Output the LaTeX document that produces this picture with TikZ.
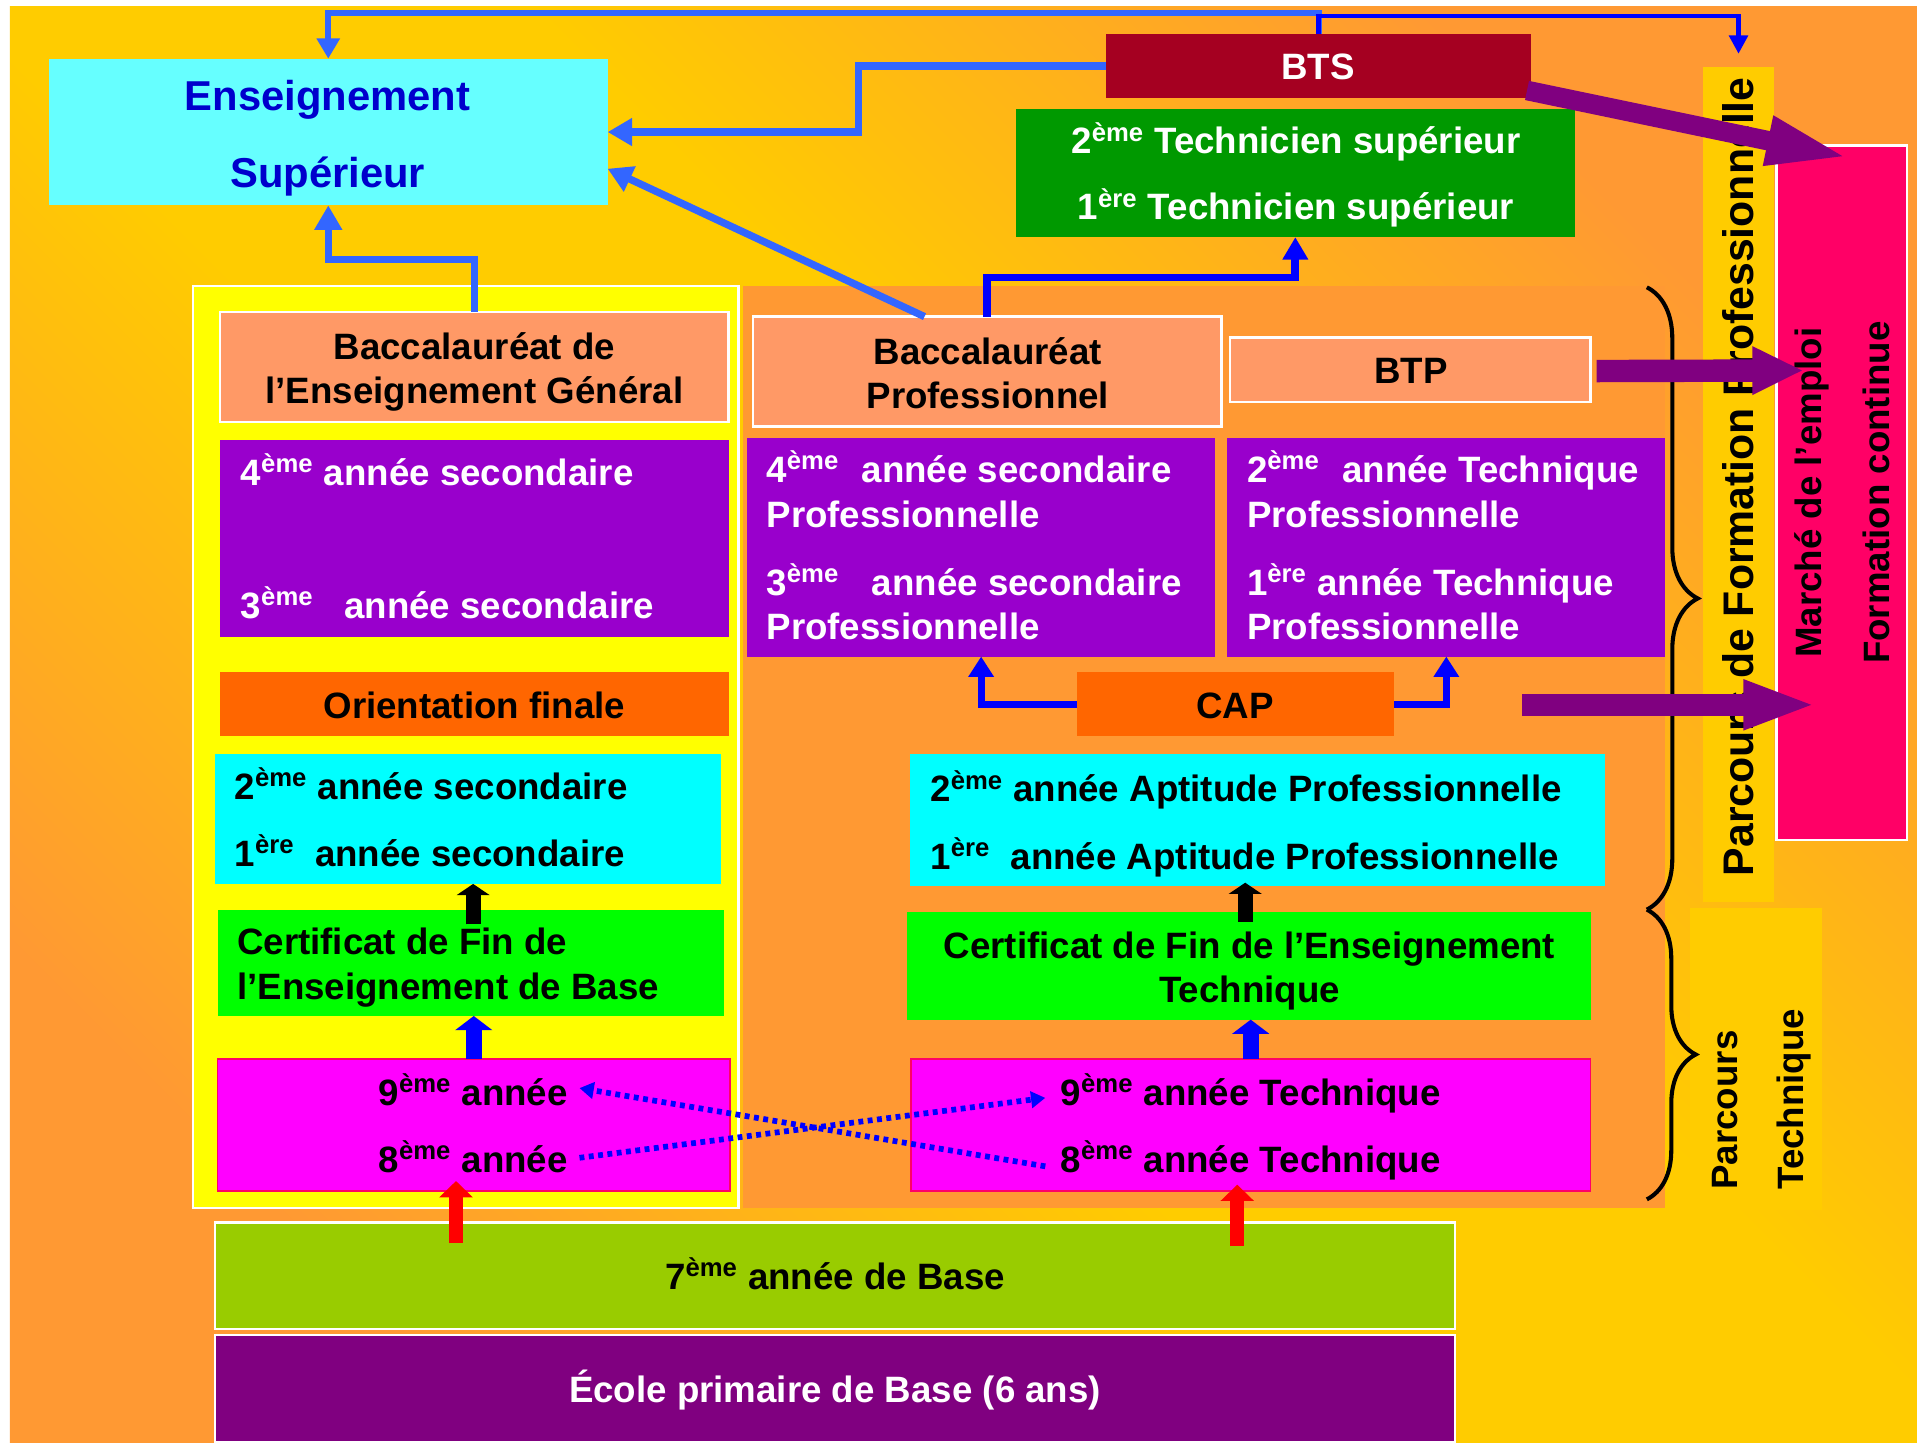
\documentclass[tikz,border=0pt]{standalone}
\usepackage{fontspec}
\setmainfont{Liberation Sans}
\usetikzlibrary{arrows.meta,fit,calc,decorations.pathreplacing}
\definecolor{bgO}{HTML}{FF9933}
\definecolor{bgY}{HTML}{FFCC00}
\definecolor{cyanE}{HTML}{66FFFF}
\definecolor{ensblue}{HTML}{0000CC}
\definecolor{btsred}{HTML}{A50021}
\definecolor{greenD}{HTML}{009900}
\definecolor{yel}{HTML}{FFFF00}
\definecolor{salmon}{HTML}{FF9966}
\definecolor{purp}{HTML}{9900CC}
\definecolor{orng}{HTML}{FF6600}
\definecolor{cyanB}{HTML}{00FFFF}
\definecolor{lime}{HTML}{00FF00}
\definecolor{mag}{HTML}{FF00FF}
\definecolor{magb}{HTML}{FF0066}
\definecolor{olive}{HTML}{99CC00}
\definecolor{prim}{HTML}{800080}
\definecolor{pinkB}{HTML}{FF0066}
\definecolor{lblue}{HTML}{3366FF}
\definecolor{dblue}{HTML}{0000FF}
\definecolor{arrp}{HTML}{800080}
\pgfdeclarehorizontalshading{bgshade}{100bp}{color(0bp)=(bgO); color(25bp)=(bgO); color(44bp)=(bgY); color(56bp)=(bgY); color(75bp)=(bgO); color(100bp)=(bgO)}
\newcommand\fA{\fontsize{18}{21}\selectfont\bfseries}
\newcommand\xeme{\textsuperscript{ème}}
\newcommand\xere{\textsuperscript{ère}}
\begin{document}
\begin{tikzpicture}[x=0.6pt,y=-0.6pt,
  bx/.style={inner sep=0pt,outer sep=0pt},
  wb/.style={draw=white,line width=1.2pt},
  tx/.style={inner sep=0pt,outer sep=0pt,text height=13pt,text depth=0pt,font=\fA},
  tw/.style={tx,text=white},
  lthin/.style={draw=lblue,line width=3pt,-{Triangle[length=10pt,width=11pt]}},
  dthin/.style={draw=dblue,line width=2.2pt,-{Triangle[length=9pt,width=9pt]}},
  lthick/.style={draw=lblue,line width=3.6pt,-{Triangle[length=12pt,width=13pt]}},
  dthick/.style={draw=dblue,line width=3.8pt,-{Triangle[length=11pt,width=12pt]}},
  dmid/.style={draw=dblue,line width=3.4pt,-{Triangle[length=10pt,width=12pt]}},
  blk/.style={draw=black,line width=7.5pt,-{Triangle[length=5.5pt,width=16pt]}},
  bth/.style={draw=dblue,line width=8pt,-{Triangle[length=7pt,width=18pt]}},
  red/.style={draw=red,line width=7pt,-{Triangle[length=8pt,width=16pt]}},
  dots/.style={draw=dblue,line width=2.8pt,dash pattern=on 2.4pt off 2.2pt,-{Triangle[length=7pt,width=8pt]}},
  parr/.style={draw=arrp},
  brc/.style={draw=black,line width=2pt,decorate}
]
\useasboundingbox (0,0) rectangle (1568,1179.5);
\fill[white] (0,0) rectangle (1568,1179.5);
\shade[shading=bgshade,shading angle=45] (8,5) rectangle (1568,1179.5);

% panels
\node[bx,fit={(158,234)(604,988)},fill=yel,wb] (ypan) {};
\node[bx,fit={(608,234)(1362,988)},fill=bgO] (opan) {};

% boxes
\node[bx,fit={(40,48)(497,168)},fill=cyanE] (ens) {};
\node[bx,fit={(905,28)(1252,80)},fill=btsred] (bts) {};
\node[bx,fit={(831,89)(1288,194)},fill=greenD] (ts) {};
\node[bx,fit={(180,255)(596,345)},fill=salmon,wb] (bacg) {};
\node[bx,fit={(616,259)(999,349)},fill=salmon,wb] (bacp) {};
\node[bx,fit={(1006,276)(1301,329)},fill=salmon,wb] (btp) {};
\node[bx,fit={(180,360)(596,521)},fill=purp] (pl) {};
\node[bx,fit={(611,358)(994,537)},fill=purp] (pm) {};
\node[bx,fit={(1004,358)(1362,537)},fill=purp] (pr) {};
\node[bx,fit={(180,550)(596,602)},fill=orng] (ori) {};
\node[bx,fit={(881,550)(1140,602)},fill=orng] (cap) {};
\node[bx,fit={(176,617)(590,723)},fill=cyanB] (cyl) {};
\node[bx,fit={(744,617)(1313,725)},fill=cyanB] (cyr) {};
\node[bx,fit={(178,744)(592,831)},fill=lime] (cfb) {};
\node[bx,fit={(742,746)(1301,834)},fill=lime] (cft) {};
\node[bx,fit={(178,866)(597,974)},fill=mag,draw=magb,line width=0.8pt] (mgl) {};
\node[bx,fit={(745,866)(1301,974)},fill=mag,draw=magb,line width=0.8pt] (mgr) {};
\node[bx,fit={(176,1000)(1190,1087)},fill=olive,wb] (b7) {};
\node[bx,fit={(176,1092)(1190,1180)},fill=prim,wb] (ecole) {};
\node[bx,fit={(1393,55)(1451,738)},fill=bgY] (pfp) {};
\node[bx,fit={(1453,119)(1560,687)},fill=pinkB,wb] (pink) {};
\node[bx,fit={(1382,743)(1490,990)},fill=bgY] (ptech) {};

% braces
\draw[brc,decoration={brace,amplitude=25pt}] (1347,235) -- (1347,744);
\draw[brc,decoration={brace,amplitude=24pt}] (1347,744) -- (1347,981);

% texts
\node[tx,font=\fontsize{20.5}{24}\selectfont\bfseries,text height=14.7pt,text=ensblue] (ensA) at (268,78) {Enseignement};
\node[tx,font=\fontsize{20.5}{24}\selectfont\bfseries,text height=14.7pt,text=ensblue] (ensB) at (268,141) {Supérieur};
\node[tw] (btsT) at (1078,54) {BTS};
\node[tw] (ts2) at (1060,115) {2\xeme{} Technicien supérieur};
\node[tw] (ts1) at (1060,169) {1\xere{} Technicien supérieur};
\node[tx] (bg1) at (388,283) {Baccalauréat de};
\node[tx] (bg2) at (388,319) {l’Enseignement Général};
\node[tx] (bp1) at (808,287) {Baccalauréat};
\node[tx] (bp2) at (808,323) {Professionnel};
\node[tx] (btpT) at (1154,303) {BTP};

\node[tw,anchor=west] (pl1) at (197,386) {4\xeme{} année secondaire};
\node[tw,anchor=west] (pl2) at (197,495) {3\xeme\hspace{10pt} année secondaire};

\node[tw,anchor=west] (pm1) at (627,384) {4\xeme\hspace{6pt} année secondaire};
\node[tw,anchor=west] (pm2) at (627,421) {Professionnelle};
\node[tw,anchor=west] (pm3) at (627,476) {3\xeme\hspace{11pt} année secondaire};
\node[tw,anchor=west] (pm4) at (627,512) {Professionnelle};

\node[tw,anchor=west] (pr1) at (1020,384) {2\xeme\hspace{6pt} année Technique};
\node[tw,anchor=west] (pr2) at (1020,421) {Professionnelle};
\node[tw,anchor=west] (pr3) at (1020,476) {1\xere{} année Technique};
\node[tw,anchor=west] (pr4) at (1020,512) {Professionnelle};

\node[tx] (oriT) at (388,577) {Orientation finale};
\node[tx] (capT) at (1010,577) {CAP};

\node[tx,anchor=west] (cyl1) at (192,643) {2\xeme{} année secondaire};
\node[tx,anchor=west] (cyl2) at (192,698) {1\xere\hspace{5pt} année secondaire};
\node[tx,anchor=west] (cyr1) at (761,645) {2\xeme{} année Aptitude Professionnelle};
\node[tx,anchor=west] (cyr2) at (761,700) {1\xere\hspace{5pt} année Aptitude Professionnelle};

\node[tx,anchor=west] (cfb1) at (194,770) {Certificat de Fin de};
\node[tx,anchor=west] (cfb2) at (194,807) {l’Enseignement de Base};
\node[tx] (cft1) at (1022,773) {Certificat de Fin de l’Enseignement};
\node[tx] (cft2) at (1022,809) {Technique};

\node[tx] (ml1) at (387,893) {9\xeme{} année};
\node[tx] (ml2) at (387,948) {8\xeme{} année};
\node[tx] (mr1) at (1023,893) {9\xeme{} année Technique};
\node[tx] (mr2) at (1023,948) {8\xeme{} année Technique};

\node[tx] (b7T) at (683,1044) {7\xeme{} année de Base};
\node[tw] (ecT) at (683,1136) {École primaire de Base (6 ans)};

\node[tx,rotate=90,font=\fontsize{21}{24}\selectfont\bfseries,text height=15pt] (pfpT) at (1422,390) {Parcours de Formation Professionnelle};
\node[tx,rotate=90] (mkT) at (1479,403) {Marché de l’emploi};
\node[tx,rotate=90] (fcT) at (1535,403) {Formation continue};
\node[tx,rotate=90,anchor=west] (pt1) at (1410,973) {Parcours};
\node[tx,rotate=90,anchor=west] (pt2) at (1464,973) {Technique};

% connectors
\coordinate (topend) at (1422,44);
\draw[lthin] (bts.north) |- (600,11) -| (ens.north);
\draw[dthin] (bts.north) |- (1300,13) -| (topend);
\draw[lthick] (bts.west) -| (702,80) |- (ens.east);
\draw[lthick] ($(bacp.north west)!0.366!(bacp.north east)$) -- ($(ens.north east)!0.75!(ens.south east)$);
\draw[lthick] (bacg.north) |- (300,212) -| (ens.south);
\draw[dthick] (bacp.north) |- (900,227) -| (ts.south);
\draw[dmid] (cap.west) -| (pm.south);
\draw[dmid] (cap.east) -| (pr.south);
\draw[blk] ($(cfb.north)+(2,12)$) -- ($(cfb.north |- cyl.south)+(2,0)$);
\draw[blk] ($(cft.north)+(-3,8)$) -- ($(cft.north |- cyr.south)+(-3,-3)$);
\draw[bth] (mgl.north) -- (mgl.north |- cfb.south);
\draw[bth] (mgr.north) -- (mgr.north |- cft.south);

\coordinate (r1a) at (373,1017);
\coordinate (r1b) at (373,966);
\coordinate (r2a) at (1012,1019);
\coordinate (r2b) at (1012,969);
\draw[red] (r1a) -- (r1b);
\draw[red] (r2a) -- (r2b);

\coordinate (d1a) at (474,947);
\coordinate (d1b) at (855,898);
\coordinate (d2a) at (855,954);
\coordinate (d2b) at (474,890);
\draw[dots] (d1a) -- (d1b);
\draw[dots] (d2a) -- (d2b);

% purple arrows
\coordinate (p1a) at (1249,74);
\coordinate (p1b) at (1513,129);
\coordinate (p2b) at (1475,303);
\coordinate (p3a) at (1245,576.5);
\coordinate (p3b) at (1486,576.5);
\draw[parr,line width=9.6pt,-{Triangle[length=41pt,width=22pt]}] (p1a) -- (p1b);
\draw[parr,line width=11pt,-{Triangle[length=25pt,width=22pt]}] ($(btp.east)+(5,1)$) -- (p2b);
\draw[parr,line width=11pt,-{Triangle[length=36pt,width=22pt]}] (p3a) -- (p3b);
\end{tikzpicture}
\end{document}
